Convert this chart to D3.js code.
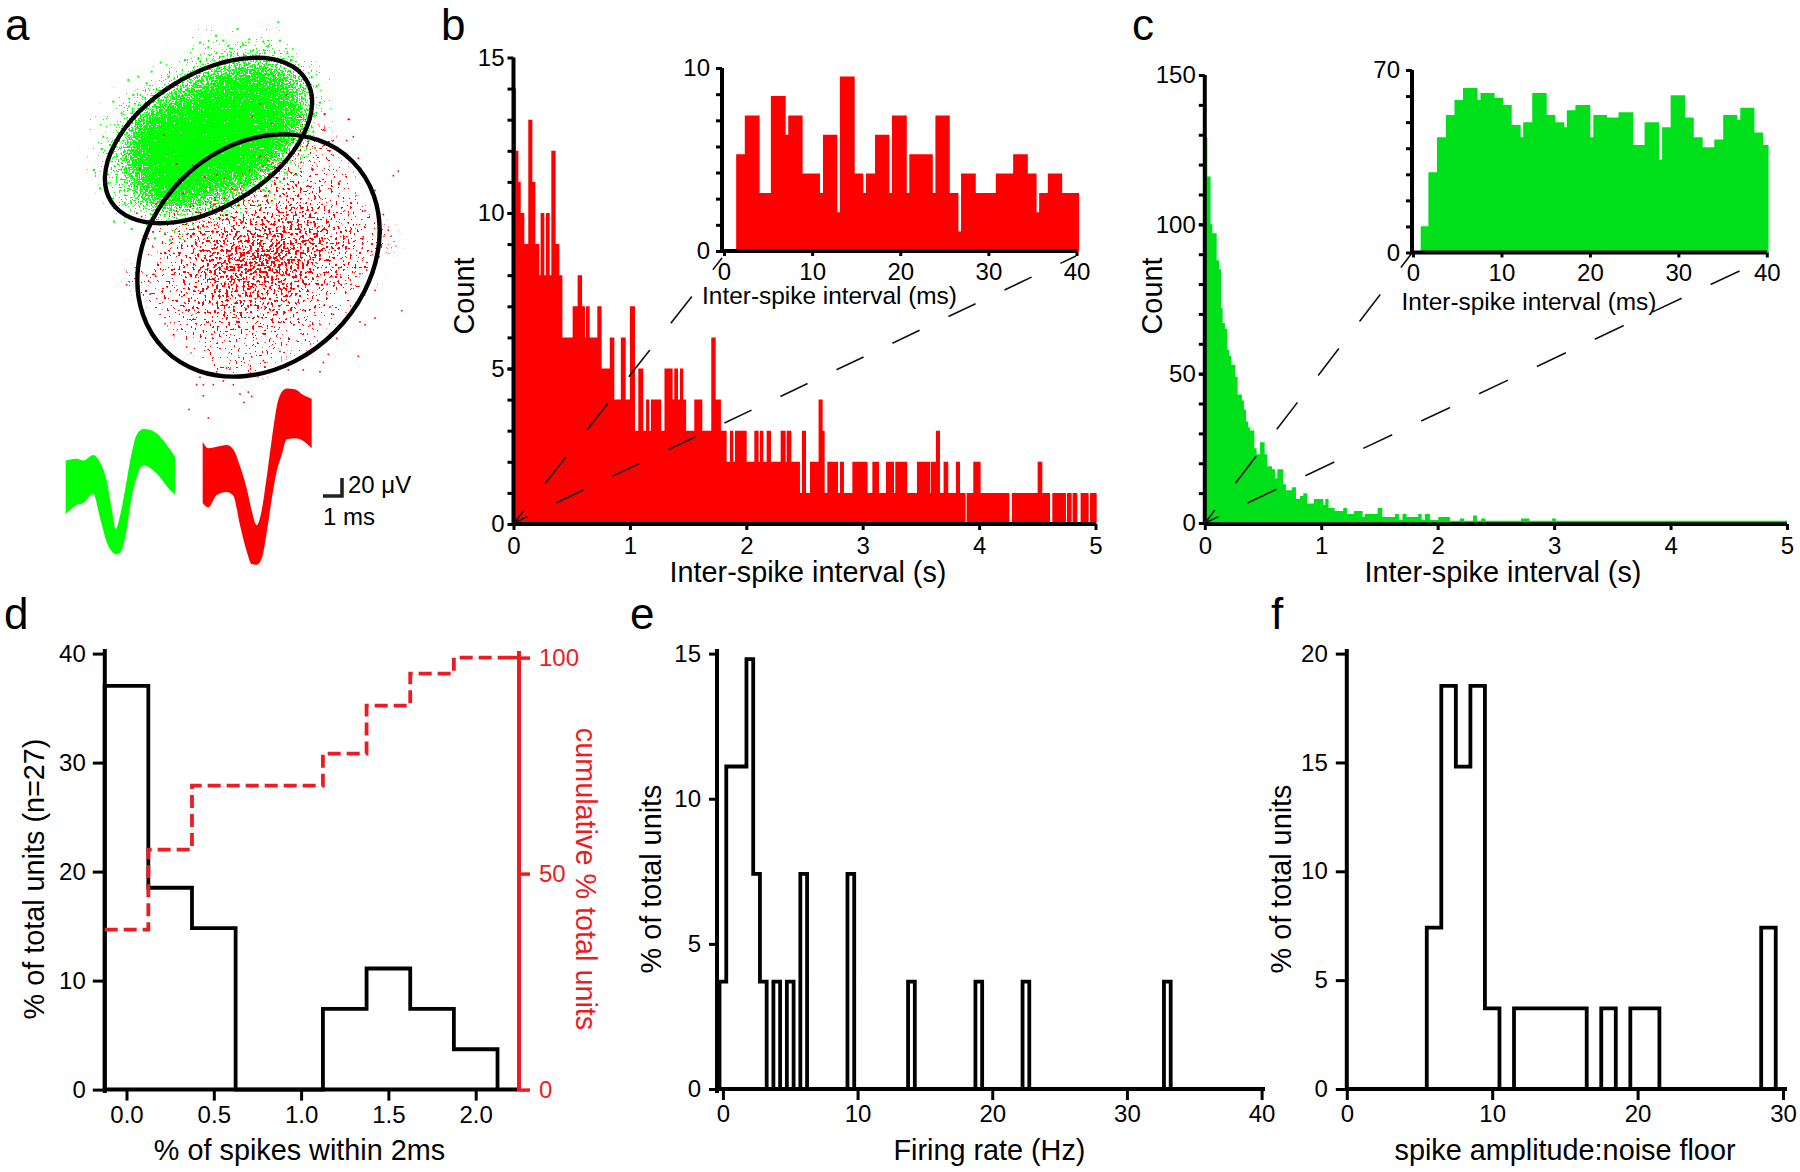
<!DOCTYPE html>
<html><head><meta charset="utf-8">
<style>
html,body{margin:0;padding:0;background:#fff}
svg{display:block}
text{font-family:"Liberation Sans",Arial,sans-serif;fill:#000}
</style>
<script src="https://cdn.jsdelivr.net/npm/d3@7/dist/d3.min.js"></script>
</head><body><svg id="c" width="1800" height="1172"></svg>
<script>
// ---------- panel b : ISI histogram (red): [right edge in s, count] ----------
const bStart=0.001;
const bBins=[[0.022,14],[0.042,12],[0.062,11],[0.093,10],[0.127,9],[0.162,13],[0.188,11],[0.222,9],[0.233,8],[0.265,10],[0.279,8],[0.311,10],[0.325,8],[0.362,12],[0.394,9],[0.420,8],[0.508,6],[0.551,7],[0.589,8],[0.614,7],[0.623,6],[0.654,7],[0.720,6],[0.757,7],[0.827,5],[0.866,6],[0.922,4],[0.964,6],[1.0,4],[1.044,7],[1.072,3],[1.115,5],[1.139,3],[1.167,4],[1.181,3],[1.269,4],[1.297,3],[1.367,5],[1.381,4],[1.413,5],[1.430,4],[1.458,5],[1.483,4],[1.553,3],[1.622,4],[1.699,3],[1.737,6],[1.782,4],[1.831,3],[1.860,2],[1.888,3],[1.903,2],[2.003,3],[2.069,2],[2.106,3],[2.117,2],[2.146,3],[2.175,2],[2.212,3],[2.295,2],[2.338,3],[2.347,2],[2.387,3],[2.461,2],[2.478,1],[2.513,3],[2.547,1],[2.621,2],[2.656,4],[2.673,3],[2.696,1],[2.788,2],[2.805,1],[2.839,2],[2.911,1],[3.042,2],[3.083,1],[3.140,2],[3.200,1],[3.269,2],[3.280,1],[3.383,2],[3.466,1],[3.578,2],[3.584,1],[3.629,2],[3.664,3],[3.695,1],[3.735,2],[3.801,1],[3.836,2],[3.884,1],[3.893,0],[3.950,1],[4.013,2],[4.260,1],[4.282,0],[4.503,1],[4.543,2],[4.609,1],[4.629,0],[4.746,1],[4.755,0],[4.795,1],[4.803,0],[4.844,1],[4.872,0],[4.941,1],[4.953,0],[5.010,1]];
const bInsetEdges=[1.38,2.36,4.04,5.32,7.0,7.29,8.92,10.89,11.23,12.86,13.15,14.83,15.81,16.11,17.14,18.77,19.06,20.74,21.03,23.69,23.99,25.62,26.6,26.9,28.57,30.84,32.81,34.48,35.47,35.76,36.75,38.37,40.3];
const bInsetValues=[5.29,7.41,3.17,8.47,6.35,7.41,4.23,3.17,6.35,2.12,9.53,4.23,3.17,4.23,6.35,3.17,7.41,3.17,5.29,3.17,7.41,3.17,1.06,4.23,3.17,4.23,5.29,4.23,2.12,3.17,4.23,3.17];
// ---------- panel c : ISI histogram (green): [right edge in s, count] ----------
const cStart=0;
const cBins=[[0.022,129],[0.05,116],[0.065,100],[0.102,97],[0.122,88],[0.139,85],[0.153,72],[0.173,67],[0.193,65],[0.211,58],[0.228,56],[0.262,53],[0.282,49],[0.319,43],[0.336,41],[0.354,38],[0.374,34],[0.388,32],[0.425,31],[0.445,25],[0.474,23],[0.514,27],[0.537,23],[0.577,19],[0.603,18],[0.623,15],[0.674,18],[0.697,13],[0.749,11],[0.783,12],[0.817,8],[0.846,9],[0.880,10],[0.937,6.5],[1.018,8],[1.035,6],[1.063,8],[1.115,5],[1.189,4],[1.223,5],[1.281,3],[1.355,4],[1.375,2],[1.484,3],[1.524,5],[1.633,2],[1.667,3],[1.698,1],[1.733,3],[1.833,2],[1.862,3],[1.890,1],[1.933,3],[2.005,1],[2.105,2],[2.19,0.5],[2.227,1.5],[2.304,0.5],[2.337,2.5],[2.373,0.5],[2.41,1.5],[2.715,0.5],[2.788,1.5],[2.982,0.5],[3.015,1.5],[5.0,0.5]];
const cInsetEdges=[0.87,1.74,2.71,3.72,4.69,5.65,7.29,7.63,9.22,10.19,11.16,12.17,12.46,13.48,15.12,16.09,17.1,17.39,18.36,20.05,20.39,21.93,23.24,24.88,26.18,27.83,28.16,29.13,30.77,31.74,32.75,34.06,35.07,36.67,37.0,38.6,39.57,40.2];
const cInsetValues=[10.1,30.8,44.2,52.7,58.5,63.1,58.5,61.2,59.4,56.6,48.9,44.2,50,61.2,52.7,50,48,54.6,56.6,44.2,52.7,51.8,53.8,41.2,50,35.7,48,60.3,51.8,44.2,40.4,43.3,52.7,50.8,55.5,46,41.2];
// ---------- panel d ----------
const dEdges=[-0.125,0.125,0.375,0.625,0.875,1.125,1.375,1.625,1.875,2.125];
const dPercent=[37.04,18.52,14.81,0,0,7.41,11.11,7.41,3.70];
const dCumEdges=[-0.125,0.125,0.375,1.125,1.375,1.625,1.875,2.245];
const dCumulative=[37.04,55.56,70.37,77.78,88.89,96.3,100];
// ---------- panel e ----------
const eEdges=[-0.25,0.25,1.75,2.25,2.75,3.25,3.75,4.25,4.75,5.25,5.75,6.25,9.25,9.75,13.75,14.25,18.75,19.25,22.25,22.75,32.75,33.25,40.1];
const ePercent=[3.7,11.11,14.81,7.41,3.7,0,3.7,0,3.7,0,7.41,0,7.41,0,3.7,0,3.7,0,3.7,0,3.7,0];
// ---------- panel f ----------
const fEdges=[0,5.5,6.5,7.5,8.5,9.5,10.5,11.5,16.5,17.5,18.5,19.5,21.5,28.5,29.5,30.2];
const fPercent=[0,7.41,18.52,14.81,18.52,3.7,0,3.7,0,3.7,0,3.7,0,7.41,0];
// ---------- panel a : waveforms (read in zoomed-picture units) ----------
const greenWaveT=[197,230,250,280,300,320,335,347,360,375,395,410,430,450,480,510,525];
const greenWaveHi=[1245,1240,1245,1230,1250,1300,1375,1430,1395,1325,1225,1175,1160,1162,1180,1215,1235];
const greenWaveLo=[1390,1365,1360,1335,1400,1465,1490,1498,1495,1455,1345,1290,1258,1265,1290,1325,1337];
const redWaveT=[608,625,650,680,700,720,740,755,770,785,800,815,830,845,860,885,910,935];
const redWaveHi=[1195,1212,1208,1203,1215,1260,1320,1380,1420,1380,1290,1190,1100,1060,1050,1052,1068,1078];
const redWaveLo=[1360,1372,1338,1330,1340,1420,1490,1525,1527,1510,1440,1350,1275,1230,1188,1185,1192,1212];
// ---------- panel a : spike-cluster density (0-9), 20-unit cells ----------
const densityCols=[100,120,140,160,180,200,220,240,260,280,300,320,340,360,380];
const densityRows=[40,60,80,100,120,140,160,180,200,220,240,260,280,300,320,340,360,380,400];
const greenDensity=[
[0,0,0,0,0,1,1,1,1,1,0,0,0,0,0],
[0,0,0,0,1,2,3,4,4,3,1,0,0,0,0],
[0,0,0,2,3,5,6,7,7,6,4,1,0,0,0],
[0,1,3,4,6,7,8,8,8,7,5,1,0,0,0],
[1,2,5,7,8,9,9,9,8,8,5,1,0,0,0],
[1,3,7,9,9,9,9,9,8,7,3,0,0,0,0],
[1,4,7,9,9,9,8,8,7,4,2,0,0,0,0],
[1,3,6,8,9,8,7,6,4,2,0,0,0,0,0],
[0,2,4,6,6,5,4,3,1,0,0,0,0,0,0],
[0,1,1,2,2,2,1,1,0,0,0,0,0,0,0],
[0,0,0,0,1,1,0,0,0,0,0,0,0,0,0]];
const redDensity=[
[0,0,0,0,0,0,0,0,0,0,0,0,0,0,0],
[0,0,0,0,0,0,0,0,0,0,0,0,0,0,0],
[0,0,0,0,0,0,0,0,0,0,0,0,0,0,0],
[0,0,0,0,0,0,0,0,0,0,0,0,0,0,0],
[0,0,0,0,0,0,0,0,0,0,1,0,0,0,0],
[0,0,0,0,0,0,0,0,0,0,1,1,0,0,0],
[0,0,0,0,0,0,0,0,1,1,1,1,0,0,0],
[0,0,0,0,0,0,1,1,1,2,2,1,1,0,0],
[0,0,0,0,0,1,1,1,2,2,2,2,1,0,0],
[0,0,0,0,1,2,3,3,3,4,4,3,2,1,0],
[0,0,0,1,2,3,3,4,4,4,4,4,3,2,1],
[0,0,0,1,2,3,4,5,5,5,4,3,2,1,0],
[0,0,1,1,2,3,4,4,4,4,3,2,2,1,0],
[0,0,0,1,1,3,3,3,3,3,2,1,1,0,0],
[0,0,0,0,1,2,2,3,2,2,1,1,0,0,0],
[0,0,0,0,0,1,1,1,1,1,1,0,0,0,0],
[0,0,0,0,0,0,1,1,1,0,0,0,0,0,0],
[0,0,0,0,0,0,0,0,0,0,0,0,0,0,0],
[0,0,0,0,0,0,0,0,0,0,0,0,0,0,0]];
// individually legible spikes (zoomed-picture units)
const greenSpikes=[[443,27],[565,7],[378,47],[330,68],[400,62],[478,58],[520,65],[570,62],[355,82],[415,78],[460,75],[535,78],[212,128],[185,155],[115,180],[70,245],[12,450],[30,505],[72,605],[125,627],[285,120],[325,115],[145,170],[170,190],[235,170],[95,280],[130,225],[40,350],[35,387],[60,375],[680,198],[665,172],[690,248],[672,283],[630,150],[592,100],[605,120],[665,322],[670,335],[105,550],[55,490],[590,460],[570,485],[620,465],[540,515],[520,510],[545,545],[170,650],[195,655],[225,640],[240,660],[270,655],[105,590]];
const redSpikesOverGreen=[[510,252],[487,290],[222,345],[150,447],[260,432],[308,435],[265,478],[345,470],[280,520],[380,465],[435,510],[480,450],[520,437],[510,410],[545,310],[590,225],[200,550],[140,580],[155,590],[300,560],[370,555],[630,290],[655,370],[700,330],[703,283],[775,298]];
const redSpikes=[[1048,323],[975,308],[975,352],[1040,380],[1075,428],[1195,463],[1180,475],[1125,515],[1150,580],[1165,622],[1205,840],[1125,860],[1095,878],[1080,870],[1075,963],[1125,785],[1100,730],[1115,680],[1010,915],[970,980],[985,958],[910,1000],[865,1000],[960,1005],[600,1020],[590,1040],[610,1040],[640,1040],[610,1070],[670,1030],[700,1040],[720,1065],[745,1060],[755,1072],[732,1088],[567,1107],[625,1130],[380,770],[440,745],[450,795],[495,875],[520,905],[560,938],[625,945],[650,1005],[680,995],[690,998],[1000,380],[1060,370],[1000,420],[1020,490],[1095,570],[1135,630],[1090,640],[1080,740],[990,830],[1030,870],[1000,850],[930,880],[840,950],[790,975],[755,965],[945,400],[920,395]];
// cluster boundary ellipses: cx, cy, rx, ry, rotation
const clusterEllipses=[[208.5,140.5,115,66,-32],[258.5,255.5,133,108,-45]];
const panelLetters=[["a",5,40],["b",441,40],["c",1132,40],["d",4,629],["e",630,629],["f",1271,629]];

const RED="#ff0000",GREEN="#00e01a",PURE="#00ff00",DRED="#ed1c24";
const svg=d3.select("#c");
const TICK=24,TITLE=28.8;

function axisStyle(g,w,tw,col){
  g.select(".domain").attr("stroke",col||"#000").attr("stroke-width",w);
  g.selectAll(".tick line").attr("stroke",col||"#000").attr("stroke-width",tw);
  g.selectAll("text").style("font-size",TICK+"px").style("fill",col||"#000").attr("font-family","Liberation Sans");
}
function drawAxes(o){
  const {x,y}=o;
  const [x0,x1]=x.range(),[yb,yt]=y.range();
  const left=o.axisLeft??x0, base=o.axisBase??yb;
  if(o.yMinor){
    const a=d3.axisLeft(y).tickValues(o.yMinor).tickSize(o.minorLen||6).tickFormat("");
    const g=svg.append("g").attr("transform",`translate(${left},0)`).call(a);
    g.select(".domain").remove();
    g.selectAll("line").attr("stroke","#000").attr("stroke-width",3);
  }
  const ya=d3.axisLeft(y).tickValues(o.yTicks).tickSize(o.tickLen||6).tickSizeOuter(0).tickPadding(o.yPad||4).tickFormat(d3.format("d"));
  const gy=svg.append("g").attr("transform",`translate(${left},0)`).call(ya);
  axisStyle(gy,o.w||4,o.tw||3);
  gy.select(".domain").attr("d",`M0,${(o.yEnd??yb)}V${(o.yTop??yt)}`);
  const xa=d3.axisBottom(x).tickValues(o.xTicks).tickSize(o.xTickLen||6).tickSizeOuter(0).tickPadding(o.xPad||7).tickFormat(o.xFmt||d3.format("d"));
  const gx=svg.append("g").attr("transform",`translate(0,${base})`).call(xa);
  axisStyle(gx,o.w||4,o.tw||3);
  gx.select(".domain").attr("d",`M${o.xStart??left},0H${o.xEnd??x1}`);
}
function title(t,x,y,rot,size,col){
  const s=svg.append("text").text(t).attr("text-anchor","middle").style("font-size",(size||TITLE)+"px");
  if(col)s.style("fill",col);
  s.attr("transform",`translate(${x},${y})`+(rot?` rotate(${rot})`:""));
}
function filled(edges,vals,x,y,col){
  const pts=vals.map((v,i)=>[edges[i],v]);pts.push([edges[edges.length-1],vals[vals.length-1]]);
  const area=d3.area().x(d=>x(d[0])).y0(y(0)).y1(d=>y(d[1])).curve(d3.curveStepAfter);
  svg.append("path").attr("d",area(pts)).attr("fill",col);
}
function outline(edges,vals,x,y){
  const pts=[[edges[0],0]];vals.forEach((v,i)=>pts.push([edges[i],v]));pts.push([edges[edges.length-1],0]);
  const line=d3.line().x(d=>x(d[0])).y(d=>y(d[1])).curve(d3.curveStepAfter);
  return svg.append("path").attr("d",line(pts)).attr("fill","none").attr("stroke","#000").attr("stroke-width",3.8).attr("stroke-linejoin","miter");
}
function dashes(x0,y0,x1,y1,dash,gap,first){
  svg.append("line").attr("x1",x0).attr("y1",y0).attr("x2",x1).attr("y2",y1)
    .attr("stroke","#111").attr("stroke-width",1.6)
    .attr("stroke-dasharray",`${dash} ${gap}`).attr("stroke-dashoffset",dash-first);
}

// ---------- panel a ----------
const defs=svg.append("defs");
function stipple(id,color,freq,seed,blur,k2,k4){
  const f=defs.append("filter").attr("id",id).attr("filterUnits","userSpaceOnUse")
    .attr("x",0).attr("y",0).attr("width",460).attr("height",460).attr("color-interpolation-filters","sRGB");
  f.append("feGaussianBlur").attr("in","SourceGraphic").attr("stdDeviation",blur).attr("result","d");
  f.append("feTurbulence").attr("type","fractalNoise").attr("baseFrequency",freq).attr("numOctaves",1).attr("seed",seed).attr("result","n");
  f.append("feComposite").attr("in","d").attr("in2","n").attr("operator","arithmetic")
    .attr("k1",0).attr("k2",k2).attr("k3",-2.6).attr("k4",k4).attr("result","m");
  f.append("feComponentTransfer").attr("in","m").attr("result","t").append("feFuncA").attr("type","linear").attr("slope",30).attr("intercept",0);
  f.append("feComponentTransfer").attr("in","d").attr("result","mask").append("feFuncA").attr("type","linear").attr("slope",20).attr("intercept",0);
  f.append("feFlood").attr("flood-color",color).attr("result","c");
  f.append("feComposite").attr("in","c").attr("in2","t").attr("operator","in").attr("result","s");
  f.append("feComposite").attr("in","s").attr("in2","mask").attr("operator","in");
}
stipple("stG",PURE,0.62,4,7,1.3,0.62);
stipple("stR",RED,0.42,9,9,0.9,0.78);
const dx=d3.scaleLinear().domain([100,380]).range([100,380]);
const dy=d3.scaleLinear().domain([40,400]).range([40,400]);
function densityLayer(m,id){
  const g=svg.append("g").attr("filter",`url(#${id})`);
  m.forEach((row,r)=>row.forEach((v,c)=>{
    if(v>0)g.append("rect").attr("x",dx(densityCols[c])-10).attr("y",dy(densityRows[r])-10)
      .attr("width",20).attr("height",20).attr("fill","#000").attr("fill-opacity",v/9);
  }));
}
densityLayer(redDensity,"stR");
densityLayer(greenDensity,"stG");
const zx1=d3.scaleLinear().domain([0,1320]).range([0,440]),zy1=d3.scaleLinear().domain([0,1568]).range([0,580]);
const zx2=d3.scaleLinear().domain([0,960]).range([90,410]),zy2=d3.scaleLinear().domain([0,690]).range([20,250]);
svg.append("g").selectAll("rect").data(greenSpikes).join("rect")
  .attr("x",d=>zx2(d[0])-1).attr("y",d=>zy2(d[1])-1).attr("width",2).attr("height",2).attr("fill",PURE);
svg.append("g").selectAll("rect").data(redSpikes).join("rect")
  .attr("x",d=>zx1(d[0])-.8).attr("y",d=>zy1(d[1])-.8).attr("width",1.6).attr("height",1.6).attr("fill",RED);
svg.append("g").selectAll("rect").data(redSpikesOverGreen).join("rect")
  .attr("x",d=>zx2(d[0])-.8).attr("y",d=>zy2(d[1])-.8).attr("width",1.6).attr("height",1.6).attr("fill",RED);
clusterEllipses.forEach(e=>{
  svg.append("ellipse").attr("cx",e[0]).attr("cy",e[1]).attr("rx",e[2]).attr("ry",e[3])
    .attr("transform",`rotate(${e[4]} ${e[0]} ${e[1]})`)
    .attr("fill","none").attr("stroke","#000").attr("stroke-width",4.4);
});
function wave(T,H,L,col){
  const a=d3.area().x(d=>zx1(T[d])).y0(d=>zy1(L[d])).y1(d=>zy1(H[d])).curve(d3.curveMonotoneX);
  svg.append("path").attr("d",a(d3.range(T.length))).attr("fill",col);
}
wave(greenWaveT,greenWaveHi,greenWaveLo,PURE);
wave(redWaveT,redWaveHi,redWaveLo,RED);
svg.append("path").attr("d","M342,478V496H323").attr("fill","none").attr("stroke","#222").attr("stroke-width",3.6);
svg.append("text").text("20 μV").attr("x",348).attr("y",493).style("font-size","24px");
svg.append("text").text("1 ms").attr("x",323).attr("y",525).style("font-size","24px");

// ---------- panel b ----------
const bx=d3.scaleLinear().domain([0,5]).range([513.5,1095.5]);
const by=d3.scaleLinear().domain([0,15]).range([524,57.5]);
filled([bStart,...bBins.map(d=>d[0])],bBins.map(d=>d[1]),bx,by,RED);
drawAxes({x:bx,y:by,yTicks:[0,5,10,15],yMinor:d3.range(1,15),xTicks:[0,1,2,3,4,5],yPad:3});
title("Inter-spike interval (s)",808,582,0);
title("Count",474,296,-90);
const bix=d3.scaleLinear().domain([0,40]).range([724,1076.5]);
const biy=d3.scaleLinear().domain([0,10]).range([251,68]);
filled(bInsetEdges,bInsetValues,bix,biy,RED);
drawAxes({x:bix,y:biy,axisLeft:722,yTicks:[0,10],yMinor:[1.43,2.86,4.29,5.71,7.14,8.57],xTicks:[0,10,20,30,40],tickLen:6,xTickLen:5,xPad:7,yPad:6,xStart:722});
title("Inter-spike interval (ms)",829.5,304,0,24.4);
dashes(514,523,722,258,34,34,16);
dashes(514,523,1076,256,30,32,15);

// ---------- panel c ----------
const cx=d3.scaleLinear().domain([0,5]).range([1204.8,1787]);
const cy=d3.scaleLinear().domain([0,150]).range([523,75]);
filled([cStart,...cBins.map(d=>d[0])],cBins.map(d=>d[1]),cx,cy,GREEN);
drawAxes({x:cx,y:cy,axisBase:524,yTicks:[0,50,100,150],yMinor:d3.range(10,150,10),xTicks:[0,1,2,3,4,5],yPad:3});
svg.append("line").attr("x1",cx(0)).attr("x2",cx(5)).attr("y1",521.5).attr("y2",521.5).attr("stroke",GREEN).attr("stroke-width",1.5);
title("Inter-spike interval (s)",1503,582,0);
title("Count",1162,296,-90);
const cix=d3.scaleLinear().domain([0,40]).range([1413,1766.8]);
const ciy=d3.scaleLinear().domain([0,70]).range([252.5,70]);
filled(cInsetEdges,cInsetValues,cix,ciy,GREEN);
drawAxes({x:cix,y:ciy,axisLeft:1412,yTicks:[0,70],yMinor:[10,20,30,40,50,60],xTicks:[0,10,20,30,40],xTickLen:5,xPad:6,yPad:6,xStart:1412});
title("Inter-spike interval (ms)",1529,310,0,24.4);
dashes(1205,523,1412,253,34,34,16);
dashes(1205,523,1767,258,32,32,15);

// ---------- panel d ----------
const dxs=d3.scaleLinear().domain([0,2]).range([126.5,475.7]);
const dyl=d3.scaleLinear().domain([0,40]).range([1089.6,653.6]);
const dyr=d3.scaleLinear().domain([0,100]).range([1089.6,657.6]);
outline(dEdges,dPercent,dxs,dyl);
drawAxes({x:dxs,y:dyl,axisLeft:104.8,yTop:649,yEnd:1093,yTicks:[0,10,20,30,40],xTicks:[0,.5,1,1.5,2],xFmt:d3.format(".1f"),tickLen:12,xTickLen:11,xPad:5,yPad:7,xStart:104,xEnd:519,w:4});
const cumPts=dCumulative.map((v,i)=>[dCumEdges[i],v]);cumPts.push([dCumEdges[dCumEdges.length-1],100]);
svg.append("path").attr("d",d3.line().x(d=>dxs(d[0])).y(d=>dyr(d[1])).curve(d3.curveStepAfter)(cumPts))
  .attr("fill","none").attr("stroke",DRED).attr("stroke-width",3.8).attr("stroke-dasharray","13 6");
const ra=d3.axisRight(dyr).tickValues([0,50,100]).tickSize(11).tickSizeOuter(0).tickPadding(9).tickFormat(d3.format("d"));
const gr=svg.append("g").attr("transform","translate(519,0)").call(ra);
axisStyle(gr,4,3.5,DRED);
gr.select(".domain").attr("d","M0,1091V651");
svg.append("line").attr("x1",509).attr("x2",519).attr("y1",dyr(100)).attr("y2",dyr(100)).attr("stroke",DRED).attr("stroke-width",3.5);
title("% of spikes within 2ms",299.5,1160,0);
title("% of total units (n=27)",44,879,-90);
title("cumulative % total units",576,879,90,28.8,DRED);

// ---------- panel e ----------
const ex=d3.scaleLinear().domain([0,40]).range([722.9,1261.6]);
const ey=d3.scaleLinear().domain([0,15]).range([1089,653.6]);
outline(eEdges,ePercent,ex,ey);
drawAxes({x:ex,y:ey,axisLeft:717,yTop:649,yEnd:1093,yTicks:[0,5,10,15],xTicks:[0,10,20,30,40],tickLen:8,xTickLen:11,xPad:5,yPad:8,xStart:717,xEnd:1265});
title("Firing rate (Hz)",989.4,1160,0);
title("% of total units",661,879,-90);

// ---------- panel f ----------
const fx=d3.scaleLinear().domain([0,30]).range([1346.8,1783]);
const fy=d3.scaleLinear().domain([0,20]).range([1089,653.6]);
outline(fEdges,fPercent,fx,fy);
drawAxes({x:fx,y:fy,yTop:649,yTicks:[0,5,10,15,20],xTicks:[0,10,20,30],tickLen:11,xTickLen:11,xPad:5,yPad:8,xEnd:1787});
title("spike amplitude:noise floor",1565,1160,0);
title("% of total units",1291,879,-90);

// ---------- panel letters ----------
svg.append("g").selectAll("text").data(panelLetters).join("text")
  .text(d=>d[0]).attr("x",d=>d[1]).attr("y",d=>d[2]).style("font-size","44px");
</script></body></html>
